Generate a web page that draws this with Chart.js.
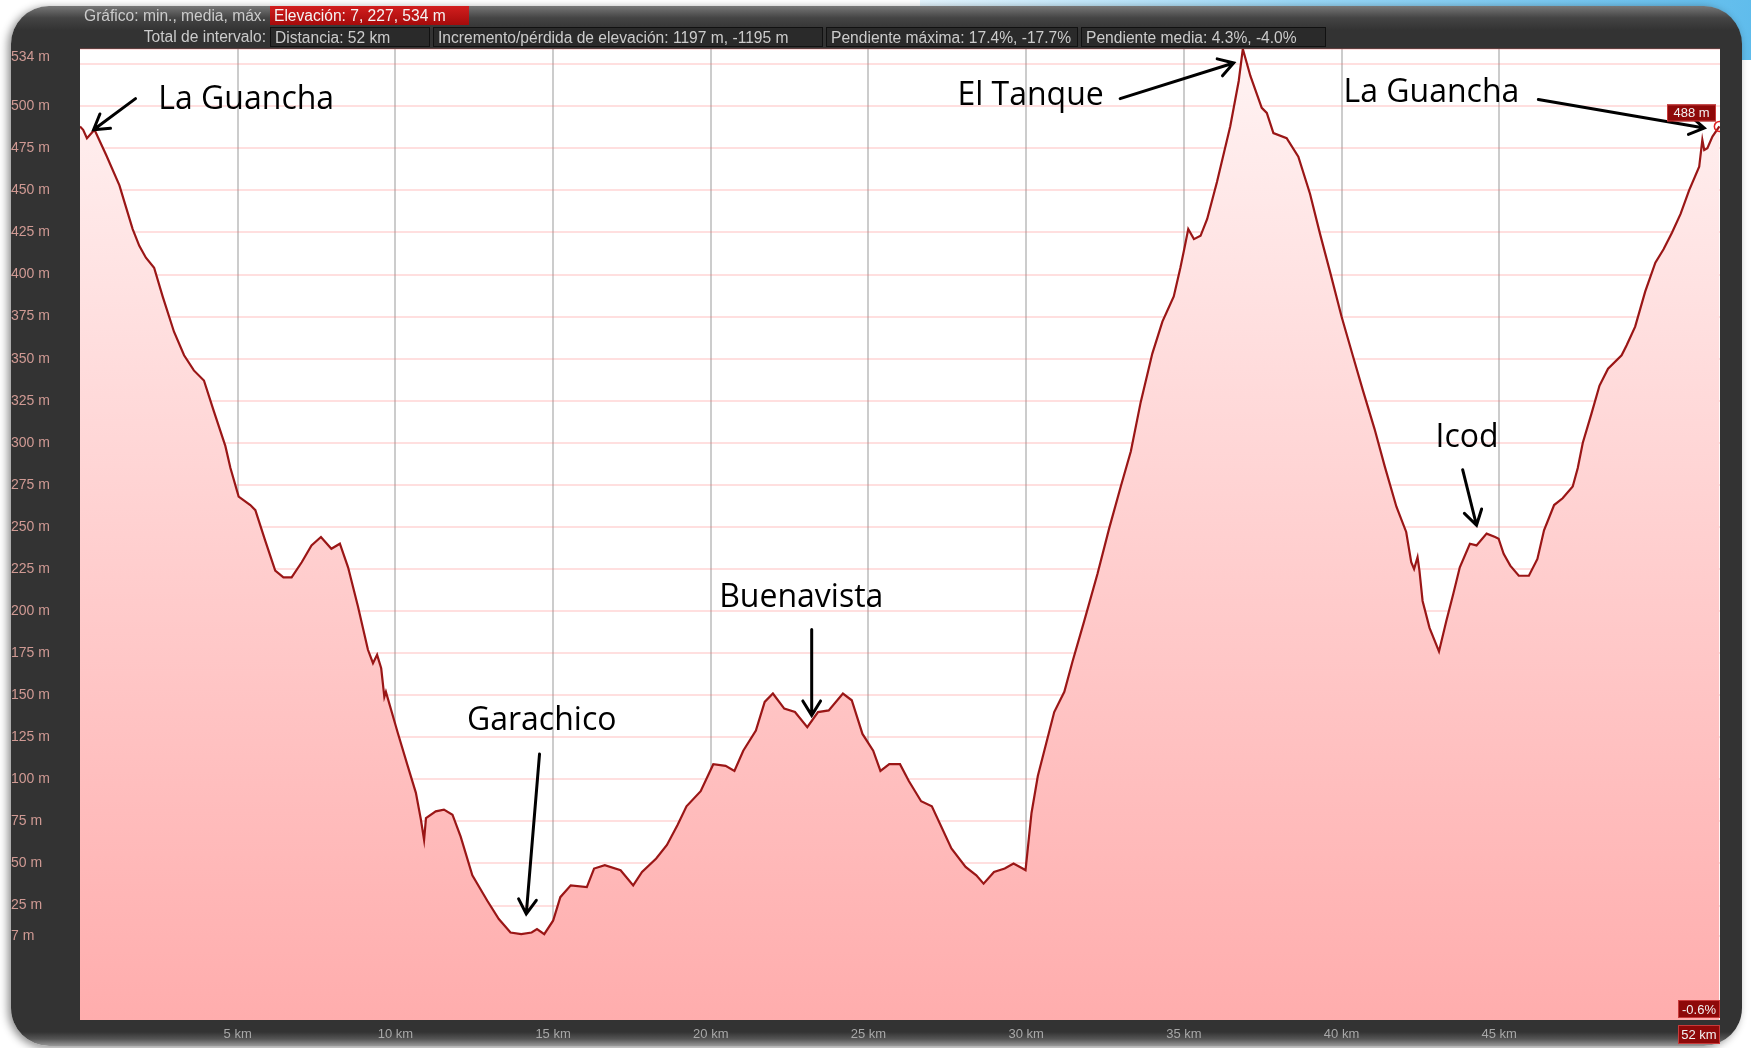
<!DOCTYPE html>
<html>
<head>
<meta charset="utf-8">
<title>Perfil de elevación</title>
<script src="https://cdn.jsdelivr.net/npm/chart.js@4.4.1/dist/chart.umd.min.js"></script>
<style>
  html, body { margin: 0; padding: 0; background: #fff; overflow: hidden; }
  body { width: 1751px; height: 1048px; position: relative; font-family: 'Liberation Sans', Arial, sans-serif; }
  #swoosh { position: absolute; left: 920px; top: 0; width: 831px; height: 60px;
    background: linear-gradient(100deg, #e4f5fe 0%, #9ad8f7 45%, #5fbcec 100%); }
  #panel { position: absolute; left: 11px; top: 6px; width: 1731px; height: 1040px; border-radius: 38px;
    background: linear-gradient(to bottom, #777 0px, #444 12px, #333 24px, #333 1026px, #555 1033px, #999 1040px);
    box-shadow: -3px 2px 8px rgba(0,0,0,0.45); }
  canvas { position: absolute; left: 0; top: 0; }
  .hdr { position: absolute; font-size: 15.6px; line-height: 19px; color: #cbcbcb; white-space: nowrap; z-index: 2; }
  .lbl { left: 0; width: 266px; text-align: right; }
  .box { background: #2a2a2a; border: 1px solid #111; padding-left: 4px; box-sizing: border-box; height: 20px; }
  .red { background: linear-gradient(#d21e1e, #a50b0b); color: #f4f4f4; padding-left: 4px; box-sizing: border-box; }
</style>
</head>
<body>
<div id="swoosh"></div>
<div id="panel"></div>

<div class="hdr lbl" style="top:6px">Gráfico: min., media, máx.</div>
<div class="hdr red" style="top:6px; left:270px; width:199px; height:19px">Elevación: 7, 227, 534 m</div>

<div class="hdr lbl" style="top:27px">Total de intervalo:</div>
<div class="hdr box" style="top:27px; left:270px; width:160px">Distancia: 52 km</div>
<div class="hdr box" style="top:27px; left:433px; width:390px">Incremento/pérdida de elevación: 1197 m, -1195 m</div>
<div class="hdr box" style="top:27px; left:826px; width:252px">Pendiente máxima: 17.4%, -17.7%</div>
<div class="hdr box" style="top:27px; left:1081px; width:245px">Pendiente media: 4.3%, -4.0%</div>

<canvas id="chart1" width="1751" height="1048"></canvas>

<script>
// distance along the route (km) and elevation (m)
const distKm = [0, 0.1, 0.22, 0.46, 0.83, 1.25, 1.41, 1.67, 1.88, 2.09, 2.35, 2.62, 2.98, 3.3, 3.61, 3.93,
  4.24, 4.61, 4.77, 5.03, 5.4, 5.56, 5.87, 6.19, 6.45, 6.71, 7.03, 7.34, 7.64, 7.97, 8.24, 8.5, 8.81,
  9.13, 9.29, 9.42, 9.55, 9.65, 9.7, 10.07, 10.39, 10.65, 10.81, 10.91, 10.97, 11.28, 11.54, 11.81,
  12.07, 12.44, 12.91, 13.28, 13.65, 13.99, 14.32, 14.49, 14.72, 15, 15.23, 15.56, 16.07, 16.3, 16.64,
  17.14, 17.54, 17.82, 18.27, 18.61, 18.95, 19.23, 19.68, 20.08, 20.47, 20.75, 21.03, 21.43, 21.71,
  21.97, 22.33, 22.67, 23.06, 23.4, 23.74, 24.19, 24.47, 24.81, 25.15, 25.38, 25.66, 26, 26.28, 26.67,
  27.01, 27.63, 28.08, 28.42, 28.65, 28.98, 29.32, 29.6, 29.89, 29.98, 30.17, 30.37, 30.63, 30.89,
  31.21, 31.47, 31.84, 32.26, 32.63, 33, 33.32, 33.63, 34, 34.32, 34.68, 34.89, 35, 35.14, 35.32,
  35.53, 35.74, 36.05, 36.47, 36.74, 36.87, 37.11, 37.47, 37.63, 37.84, 38.26, 38.63, 39, 39.32,
  39.63, 40, 40.37, 40.68, 41.05, 41.37, 41.74, 42.05, 42.21, 42.3, 42.41, 42.47, 42.57, 42.79, 43.09,
  43.32, 43.54, 43.75, 44.07, 44.28, 44.6, 44.87, 44.98, 45.14, 45.35, 45.62, 45.94, 46.21, 46.42,
  46.74, 47.01, 47.33, 47.49, 47.65, 47.92, 48.18, 48.45, 48.88, 49.04, 49.31, 49.63, 49.95, 50.21,
  50.48, 50.75, 51.02, 51.34, 51.44, 51.5, 51.6, 51.76, 51.98];
const elevM = [488, 486, 481, 486, 471, 453, 443, 427, 417, 410, 404, 387, 366, 352, 343, 337,
  319, 298, 285, 268, 263, 260, 242, 224, 220, 220, 229, 239, 244, 237, 240, 226, 203,
  177, 169, 174, 166, 149, 152, 128, 108, 92, 76, 64, 77, 81, 82, 79,
  66, 43, 28, 17, 9, 8, 9, 11, 8, 16, 30, 37, 36, 47, 49,
  46, 37, 45, 53, 61, 73, 84, 93, 109, 108, 105, 117, 129, 146,
  151, 142, 140, 131, 140, 141, 151, 147, 127, 117, 105, 109, 109, 99, 87,
  84, 59, 48, 43, 38, 45, 47, 50, 47, 46, 80, 102, 121, 140,
  152, 170, 194, 222, 249, 274, 295, 324, 353, 372, 387, 404, 414, 427, 421,
  423, 433, 455, 488, 515, 534, 518, 499, 496, 484, 481, 470, 448, 424,
  402, 375, 351, 331, 308, 286, 262, 247, 229, 225, 232, 224, 206, 190, 176,
  194, 210, 226, 240, 239, 246, 244, 243, 234, 227, 221, 221, 231, 248,
  263, 267, 274, 285, 300, 317, 334, 344, 352, 358, 369, 390, 407, 415,
  425, 436, 450, 464, 480, 474, 475, 482, 488];

const xTicks = [5, 10, 15, 20, 25, 30, 35, 40, 45];
const yTicks = [7, 25, 50, 75, 100, 125, 150, 175, 200, 225, 250, 275, 300, 325, 350, 375, 400,
  425, 450, 475, 500, 525, 534];
const totalKm = 52;
const finalGrade = '-0.6%';

// place names with their arrows, in km / m
const callouts = [
  { text: 'La Guancha', at: [5.27, 504], from: [1.76, 504.5], to: [0.43, 486] },
  { text: 'Garachico', at: [14.64, 135], from: [14.57, 115], to: [14.15, 20] },
  { text: 'Buenavista', at: [22.87, 208], from: [23.2, 189], to: [23.2, 138] },
  { text: 'El Tanque', at: [30.14, 506], from: [32.98, 504.5], to: [36.58, 525.7] },
  { text: 'La Guancha', at: [42.85, 508], from: [46.24, 504], to: [51.5, 487] },
  { text: 'Icod', at: [43.98, 303], from: [43.84, 284], to: [44.28, 251] }
];

function drawArrow(ctx, x1, y1, x2, y2) {
  const ang = Math.atan2(y2 - y1, x2 - x1);
  const head = 17, spread = 0.55;
  ctx.beginPath();
  ctx.moveTo(x1, y1);
  ctx.lineTo(x2, y2);
  ctx.moveTo(x2 - head * Math.cos(ang - spread), y2 - head * Math.sin(ang - spread));
  ctx.lineTo(x2, y2);
  ctx.lineTo(x2 - head * Math.cos(ang + spread), y2 - head * Math.sin(ang + spread));
  ctx.stroke();
}

function redBox(ctx, text, right, top, w, h) {
  ctx.fillStyle = '#8e0909';
  ctx.fillRect(right - w, top, w, h);
  ctx.strokeStyle = '#c83a3a';
  ctx.lineWidth = 1;
  ctx.strokeRect(right - w + 0.5, top + 0.5, w - 1, h - 1);
  ctx.fillStyle = '#f2f2f2';
  ctx.font = '13px "Liberation Sans", Arial, sans-serif';
  ctx.textAlign = 'center';
  ctx.textBaseline = 'middle';
  ctx.fillText(text, right - w / 2, top + h / 2 + 1);
}

const plotBackground = {
  id: 'plotBackground',
  beforeDraw(chart) {
    const a = chart.chartArea;
    chart.ctx.save();
    chart.ctx.fillStyle = '#ffffff';
    chart.ctx.fillRect(a.left, a.top, a.right - a.left, a.bottom - a.top);
    chart.ctx.restore();
  }
};

const extras = {
  id: 'extras',
  afterDraw(chart) {
    const ctx = chart.ctx;
    const xs = chart.scales.x, ys = chart.scales.y;
    const a = chart.chartArea;
    ctx.save();

    ctx.font = '32px "Open Sans", Lato, sans-serif';
    ctx.strokeStyle = '#000';
    ctx.lineWidth = 3;
    ctx.lineCap = 'round';
    callouts.forEach(c => {
      ctx.fillStyle = '#000';
      ctx.textAlign = 'center';
      ctx.textBaseline = 'middle';
      ctx.fillText(c.text, xs.getPixelForValue(c.at[0]), ys.getPixelForValue(c.at[1]));
      drawArrow(ctx, xs.getPixelForValue(c.from[0]), ys.getPixelForValue(c.from[1]),
        xs.getPixelForValue(c.to[0]), ys.getPixelForValue(c.to[1]));
    });

    const lastY = ys.getPixelForValue(elevM[elevM.length - 1]);
    redBox(ctx, elevM[elevM.length - 1] + ' m', a.right - 4, lastY - 22, 49, 17);
    redBox(ctx, finalGrade, a.right, a.bottom - 20, 42, 18);
    redBox(ctx, totalKm + ' km', a.right, a.bottom + 5, 42, 19);
    ctx.restore();
  }
};

document.addEventListener('DOMContentLoaded', () => {
  const ctx = document.getElementById('chart1').getContext('2d');
  const points = distKm.map((d, i) => ({ x: d, y: elevM[i] }));

  new Chart(ctx, {
    type: 'line',
    data: {
      datasets: [{
        data: points,
        borderColor: '#9a1616',
        borderWidth: 2.2,
        fill: 'start',
        backgroundColor: function(context) {
          const area = context.chart.chartArea;
          if (!area) return '#ffc8c8';
          const g = context.chart.ctx.createLinearGradient(0, area.top, 0, area.bottom);
          g.addColorStop(0, '#fff3f3');
          g.addColorStop(1, '#ffadad');
          return g;
        },
        tension: 0,
        pointRadius: c => (c.dataIndex === distKm.length - 1 ? 5 : 0),
        pointBorderColor: '#e02020',
        pointBackgroundColor: 'rgba(0,0,0,0)',
        pointBorderWidth: 1.5
      }]
    },
    options: {
      responsive: false,
      animation: false,
      devicePixelRatio: 1,
      layout: { padding: { left: 11, top: 49, right: 31, bottom: 6 } },
      plugins: {
        legend: { display: false },
        tooltip: { enabled: false }
      },
      scales: {
        x: {
          type: 'linear',
          min: 0,
          max: totalKm,
          z: 1,
          afterBuildTicks: s => { s.ticks = xTicks.map(v => ({ value: v })); },
          afterFit: s => { s.height = 22; },
          border: { display: false },
          grid: { color: 'rgba(110,110,110,0.35)', lineWidth: 2, drawTicks: false },
          ticks: {
            color: '#a8a8a8',
            padding: 7,
            maxRotation: 0,
            font: { family: 'Liberation Sans', size: 13 },
            callback: v => v + ' km'
          }
        },
        y: {
          min: -43,
          max: 534,
          z: 1,
          afterBuildTicks: s => { s.ticks = yTicks.map(v => ({ value: v })); },
          afterFit: s => { s.width = 69; },
          border: { display: false },
          grid: { color: 'rgba(255,110,110,0.22)', lineWidth: 2, drawTicks: false },
          ticks: {
            color: '#d09a94',
            crossAlign: 'far',
            font: { family: 'Liberation Sans', size: 14 },
            // the top label sits just under the frame, so push it down a line
            callback: v => (v === 525 ? '' : v === 534 ? ['', v + ' m'] : v + ' m')
          }
        }
      }
    },
    plugins: [plotBackground, extras]
  });
});
</script>
</body>
</html>
